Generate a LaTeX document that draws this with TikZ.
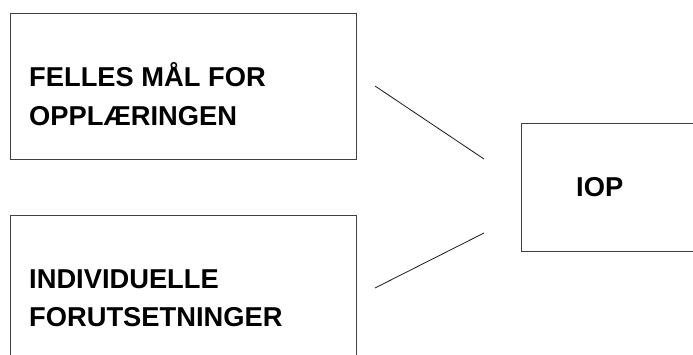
\documentclass[tikz,border=0pt]{standalone}
\usepackage{fontspec}
\setmainfont{Liberation Sans}
\begin{document}
\begin{tikzpicture}[x=1pt,y=1pt,
  box/.style={draw=black!75, line width=1pt, rectangle, inner sep=0pt, anchor=north west},
  lbl/.style={anchor=base west, inner sep=0pt, font=\fontsize{27.3}{38}\selectfont\bfseries},
  link/.style={draw=black!90, line width=0.8pt}]
\useasboundingbox (0,0) rectangle (693,354);
% boxes
\node[box, minimum width=346, minimum height=146] (felles) at (10,341) {};
\node[box, minimum width=346, minimum height=160] (indiv) at (10,139) {};
\node[box, minimum width=190, minimum height=128] (iop) at (521,231) {};
% texts
\node[lbl] (t1) at (29,267) {FELLES MÅL FOR};
\node[lbl] (t2) at (29,229) {OPPLÆRINGEN};
\node[lbl] (t3) at (29,66) {INDIVIDUELLE};
\node[lbl] (t4) at (29,28) {FORUTSETNINGER};
\node[lbl] (t5) at (576,158) {IOP};
% connector ends
\coordinate (a1) at (375,268);
\coordinate (a2) at (484,195);
\coordinate (b1) at (375,66);
\coordinate (b2) at (484,121);
\draw[link] (a1) -- (a2);
\draw[link] (b1) -- (b2);
\end{tikzpicture}
\end{document}
